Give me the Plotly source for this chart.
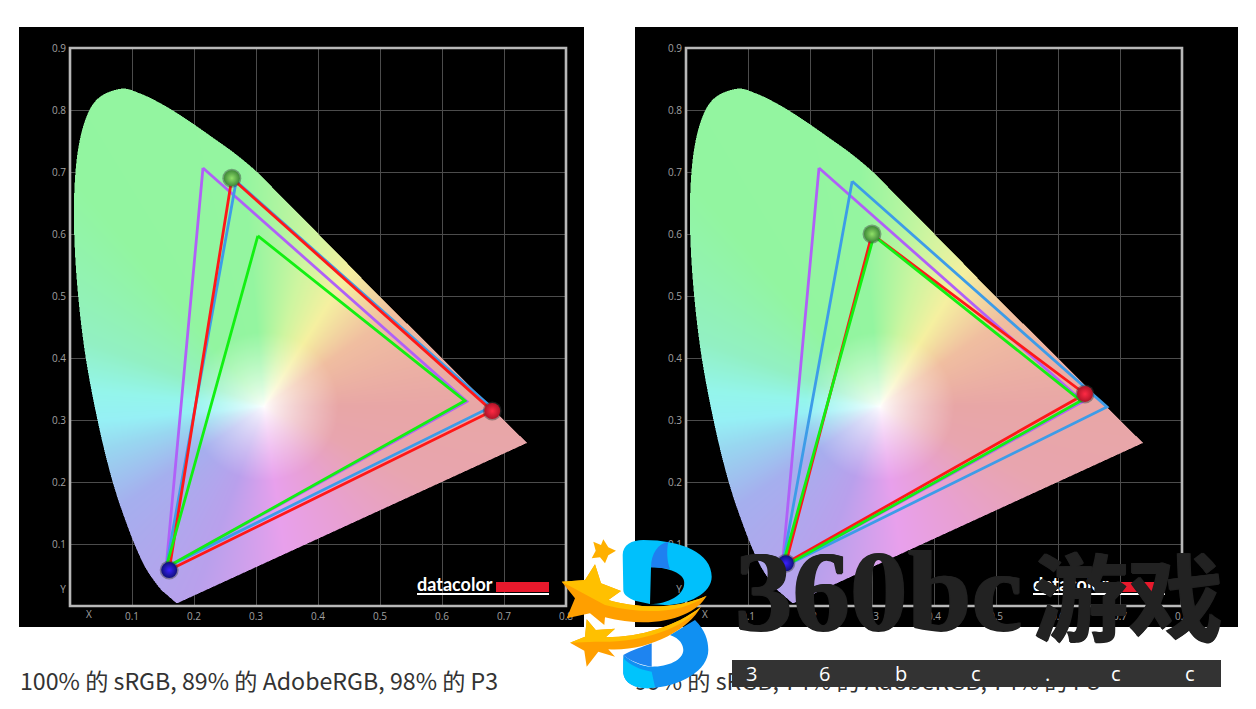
"""
CIE 1931 gamut comparison, two display panels with the site's watermark on top
"""
import base64
import re
import struct
import zlib

import numpy as np
import plotly.graph_objects as go

W, H = 1256, 709

# horseshoe outline (x, y)
locus_x = [0.1741, 0.1714, 0.1689, 0.1644, 0.1566, 0.1440, 0.1241, 0.1096, 0.0913, 0.0687,
           0.0454, 0.0235, 0.0100, 0.0065, 0.0155, 0.0389, 0.0800, 0.1142, 0.1547, 0.1929,
           0.2296, 0.2658, 0.3016, 0.3373, 0.3731, 0.4087, 0.4441, 0.4788, 0.5125, 0.5448,
           0.5752, 0.6029, 0.6270, 0.6658, 0.6915, 0.7079, 0.7190, 0.7260, 0.7370]
locus_y = [0.0050, 0.0051, 0.0069, 0.0109, 0.0177, 0.0297, 0.0578, 0.0868, 0.1327, 0.2007,
           0.2950, 0.4127, 0.5384, 0.6548, 0.7502, 0.8120, 0.8340, 0.8262, 0.8059, 0.7816,
           0.7560, 0.7300, 0.7000, 0.6640, 0.6280, 0.5920, 0.5560, 0.5202, 0.4866, 0.4544,
           0.4242, 0.3965, 0.3725, 0.3340, 0.3083, 0.2920, 0.2809, 0.2740, 0.2630]

# reference gamuts
adobe_x = [0.2145, 0.640, 0.155]
adobe_y = [0.7065, 0.330, 0.062]
p3_x = [0.268, 0.679, 0.155]
p3_y = [0.685, 0.321, 0.062]
srgb_x = [0.303, 0.637, 0.155]
srgb_y = [0.597, 0.331, 0.062]

# measured display gamuts
left_x = [0.261, 0.681, 0.160]
left_y = [0.690, 0.3145, 0.058]
right_x = [0.300, 0.6435, 0.161]
right_y = [0.600, 0.342, 0.069]

x_ticks = [0.1, 0.2, 0.3, 0.4, 0.5, 0.6, 0.7, 0.8]
y_ticks = [0.1, 0.2, 0.3, 0.4, 0.5, 0.6, 0.7, 0.8, 0.9]
left_caption = '100% 的 sRGB, 89% 的 AdobeRGB, 98% 的 P3'
right_caption = '99% 的 sRGB, 74% 的 AdobeRGB, 74% 的 P3'
bar_letters = ['3', '6', 'b', 'c', '.', 'c', 'c']

# hue around the white point: angle in degrees and pastel colour
hue_angles = [0, 35, 58, 75, 95, 130, 160, 175, 185, 195, 215, 250, 278, 305, 335, 360]
hue_colors = [(232, 166, 166), (240, 190, 160), (245, 240, 160), (205, 245, 160), (148, 245, 160),
              (146, 245, 160), (146, 240, 195), (148, 245, 235), (150, 240, 245), (152, 215, 240),
              (165, 175, 238), (185, 160, 236), (232, 160, 236), (232, 160, 210), (232, 165, 175),
              (232, 166, 166)]


def px(x):
    return x / W


def py(y):
    return 1 - y / H


def png_uri(rgba):
    def chunk(tag, data):
        return struct.pack('>I', len(data)) + tag + data + struct.pack('>I', zlib.crc32(tag + data))
    h, w = rgba.shape[:2]
    raw = b''.join(b'\x00' + row.tobytes() for row in rgba)
    png = (b'\x89PNG\r\n\x1a\n' + chunk(b'IHDR', struct.pack('>IIBBBBB', w, h, 8, 6, 0, 0, 0))
           + chunk(b'IDAT', zlib.compress(raw, 9)) + chunk(b'IEND', b''))
    return 'data:image/png;base64,' + base64.b64encode(png).decode()


def smooth_outline():
    # Catmull-Rom through the outline, same idea as line.shape='spline'; the mask needs it as a polygon
    p = np.column_stack([locus_x, locus_y])
    p = np.vstack([p[0], p, p[-1]])
    out = []
    for i in range(1, len(p) - 2):
        for t in np.linspace(0, 1, 10, endpoint=False):
            out.append(0.5 * (2 * p[i] + (p[i + 1] - p[i - 1]) * t
                              + (2 * p[i - 1] - 5 * p[i] + 4 * p[i + 1] - p[i + 2]) * t ** 2
                              + (3 * p[i] - p[i - 1] - 3 * p[i + 1] + p[i + 2]) * t ** 3))
    out.append(p[-2])
    return np.array(out)


def inside_outline(gx, gy, poly):
    # even-odd test against the closed outline
    res = np.zeros(gx.shape, dtype=bool)
    for i in range(len(poly)):
        x1, y1 = poly[i]
        x2, y2 = poly[i - 1]
        crosses = (y1 > gy) != (y2 > gy)
        res ^= crosses & (gx < (x2 - x1) * (gy - y1) / (y2 - y1 + 1e-12) + x1)
    return res


def locus_image():
    # one pixel per screen pixel, 620 px per unit; first row is the lowest y
    step = 1 / 620
    nx, ny = 496, 558
    xs = (np.arange(nx) + 0.5) * step
    ys = (np.arange(ny) + 0.5) * step
    gx, gy = np.meshgrid(xs, ys)
    ang = np.degrees(np.arctan2(gy - 0.322, gx - 0.313)) % 360
    rad = np.hypot(gx - 0.313, gy - 0.322)
    mix = np.clip(rad / 0.12, 0, 1) ** 0.75
    img = np.zeros((ny, nx, 4), dtype=np.uint8)
    for c in range(3):
        chan = np.interp(ang, hue_angles, [col[c] for col in hue_colors])
        img[..., c] = np.round(255 + (chan - 255) * mix)
    # 2x2 supersampled coverage for a soft edge
    poly = smooth_outline()
    cover = np.zeros(gx.shape)
    for ox in (-0.25, 0.25):
        for oy in (-0.25, 0.25):
            cover += inside_outline(gx + ox * step, gy + oy * step, poly)
    img[..., 3] = np.round(cover / 4 * 255)
    return img


locus_uri = png_uri(locus_image())

fig = go.Figure()


def add_panel(xa, ya, meas_x, meas_y):
    fig.add_trace(go.Image(source=locus_uri, x0=1 / 1240, y0=1 / 1240, dx=1 / 620, dy=1 / 620,
                           xaxis=xa, yaxis=ya, hoverinfo='skip'))
    gamuts = [(adobe_x, adobe_y, '#b060f8'), (p3_x, p3_y, '#3d9ce8'),
              (meas_x, meas_y, '#ff1818'), (srgb_x, srgb_y, '#12f012')]
    for gx, gy, col in gamuts:
        fig.add_trace(go.Scatter(x=gx + gx[:1], y=gy + gy[:1], mode='lines',
                                 line=dict(color=col, width=2.8), xaxis=xa, yaxis=ya,
                                 hoverinfo='skip', showlegend=False))
    # soft shadow, then the glass balls
    fig.add_trace(go.Scatter(x=meas_x, y=meas_y, mode='markers',
                             marker=dict(size=19, color='rgba(60,60,60,0.45)', line=dict(width=0)),
                             xaxis=xa, yaxis=ya, hoverinfo='skip', showlegend=False))
    fig.add_trace(go.Scatter(x=meas_x, y=meas_y, mode='markers',
                             marker=dict(size=16, color=['#3f8a38', '#b01428', '#10107a'],
                                         gradient=dict(type='radial', color=['#90e068', '#ff2a44', '#3a20ff']),
                                         line=dict(width=0)),
                             xaxis=xa, yaxis=ya, hoverinfo='skip', showlegend=False))


add_panel('x', 'y', left_x, left_y)
add_panel('x2', 'y2', right_x, right_y)

# text that sits under the watermark goes on a full-page overlay in pixel units
overlay = dict(xaxis='x3', yaxis='y3', hoverinfo='skip', showlegend=False, cliponaxis=False)
for off in (0, 616):
    fig.add_trace(go.Scatter(x=[89 + off, 63 + off], y=[615, 590], mode='text', text=['X', 'Y'],
                             textfont=dict(family='Open Sans', size=10, color='#a0a0a0'), **overlay))
    fig.add_trace(go.Scatter(x=[417 + off], y=[586], mode='text', text=['datacolor'], textposition='middle right',
                             textfont=dict(family='Lato', size=18, color='white', weight='bold'), **overlay))
fig.add_trace(go.Scatter(x=[20, 635], y=[684, 684], mode='text', text=[left_caption, right_caption],
                         textposition='middle right',
                         textfont=dict(family='Noto Sans CJK SC', size=23.2, color='#333333'), **overlay))

shapes = []
for x0, x1 in ((19, 584), (635, 1238)):
    shapes.append(dict(type='rect', xref='paper', yref='paper', layer='below', x0=px(x0), x1=px(x1),
                       y0=py(627), y1=py(27), fillcolor='black', line=dict(width=0)))
# the frames go on the overlay, on their own axes they would be clipped in half
for x0, x1 in ((70, 566), (686, 1182)):
    shapes.append(dict(type='rect', xref='x3', yref='y3', layer='above', x0=x0, x1=x1, y0=48, y1=606,
                       line=dict(color='#b8b8b8', width=2.6)))
for off in (0, 616):
    shapes.append(dict(type='rect', xref='x3', yref='y3', layer='above', x0=496 + off, x1=549 + off,
                       y0=582, y1=592, fillcolor='#e8192c', line=dict(width=0)))
    shapes.append(dict(type='rect', xref='x3', yref='y3', layer='above', x0=417 + off, x1=549 + off,
                       y0=593, y1=595, fillcolor='white', line=dict(width=0)))
shapes.append(dict(type='rect', xref='x3', yref='y3', layer='above', x0=732, x1=1221, y0=660, y1=687,
                   fillcolor='#333333', line=dict(width=0)))


def logo(path, color):
    # logo outlines were traced at 3x from the corner (555, 530)
    def conv(m):
        return f'{555 + int(m.group(1)) / 3:.1f},{530 + int(m.group(2)) / 3:.1f}'
    shapes.append(dict(type='path', xref='x3', yref='y3', layer='above',
                       path=re.sub(r'(\d+),(\d+)', conv, path), fillcolor=color, line=dict(width=0)))


# upper bowl of the B, the hole is cut with the even-odd path
logo('M203,75 C203,45 230,30 265,30 C380,30 470,70 470,140 C470,190 400,225 330,225 L285,222 L240,212 '
     'C222,205 205,195 205,180 Z M288,112 C340,112 388,130 388,158 C388,195 340,222 285,222 Z', '#00c0fc')
logo('M340,35 C310,40 288,70 288,112 C310,112 330,115 345,118 C335,90 335,60 340,35 Z', '#1e80f0')
# lower bowl
logo('M420,270 C450,300 460,330 460,360 C460,420 380,470 280,475 C240,475 208,460 205,430 L205,375 '
     'C230,395 260,410 290,410 C340,410 385,390 385,360 C385,345 375,325 345,315 Z', '#1090f2')
logo('M205,375 C225,393 260,406 290,410 L290,340 C265,350 230,360 205,375 Z', '#1e84f0')
logo('M205,385 C225,405 255,420 290,425 L300,472 L280,475 C240,475 208,460 205,430 Z', '#00c4fc')
# stars and tails
logo('M145,28 L160,52 L183,62 L160,76 L150,100 L135,82 L110,85 L122,62 L115,35 L138,45 Z', '#ffb000')
logo('M20,155 L90,150 L120,103 L138,160 L198,183 L160,210 C250,235 360,240 455,197 C420,260 300,300 150,262 '
     'L148,285 L105,250 L35,265 L60,205 Z', '#ff9f00')
logo('M20,155 L90,150 L120,103 L138,160 L198,183 L160,210 C250,235 360,240 455,197 C380,250 270,255 150,225 Z',
     '#ffc000')
logo('M45,338 L90,320 L95,268 L122,300 L180,296 L152,322 C260,320 360,290 438,230 C400,300 280,365 160,358 '
     'L180,380 L130,365 L95,410 L88,362 Z', '#ff9f00')
logo('M45,338 L90,320 L95,268 L122,300 L180,296 L152,322 C260,320 360,290 438,230 C380,300 250,340 120,335 Z',
     '#ffc000')

# the watermark is heavier than the bold faces here, a tight text shadow thickens it
heavy = '1px 0 0 #222222, -1px 0 0 #222222, 0 1px 0 #222222'
annotations = [
    dict(xref='x3', yref='y3', x=733, y=591, text='360bc', showarrow=False, xanchor='left', yanchor='middle',
         font=dict(family='Liberation Serif', size=115, color='#222222', weight='bold', shadow=heavy)),
    dict(xref='x3', yref='y3', x=1031, y=592, text='游戏', showarrow=False, xanchor='left', yanchor='middle',
         font=dict(family='Noto Sans CJK SC', size=95, color='#222222', weight='bold', shadow=heavy)),
]
for letter, cx in zip(bar_letters, [751, 824, 901, 976, 1047, 1116, 1190]):
    annotations.append(dict(xref='x3', yref='y3', x=cx, y=673, text=letter, showarrow=False,
                            font=dict(family='Open Sans', size=20, color='white')))

axis_common = dict(showline=False, showgrid=True,
                   gridcolor='#4c4c4c', gridwidth=1, zeroline=False, ticks='outside', ticklen=1,
                   tickcolor='rgba(0,0,0,0)', tickformat='.1f', fixedrange=True, automargin=False,
                   tickfont=dict(family='Open Sans', size=10, color='#a0a0a0'))
y_domain = [py(606), py(48)]
fig.update_layout(
    width=W, height=H,
    margin=dict(l=0, r=0, t=0, b=0, pad=0, autoexpand=False),
    paper_bgcolor='white', plot_bgcolor='rgba(0,0,0,0)',
    showlegend=False,
    xaxis=dict(domain=[px(70), px(566)], range=[0, 0.8], tickvals=x_ticks, anchor='y', **axis_common),
    yaxis=dict(domain=y_domain, range=[0, 0.9], tickvals=y_ticks, anchor='x', **axis_common),
    xaxis2=dict(domain=[px(686), px(1182)], range=[0, 0.8], tickvals=x_ticks, anchor='y2', **axis_common),
    yaxis2=dict(domain=y_domain, range=[0, 0.9], tickvals=y_ticks, anchor='x2', **axis_common),
    xaxis3=dict(domain=[0, 1], range=[0, W], visible=False, anchor='y3', fixedrange=True),
    yaxis3=dict(domain=[0, 1], range=[H, 0], visible=False, anchor='x3', fixedrange=True),
    shapes=shapes,
    annotations=annotations,
)

# the default page keeps body margins, drop them
fig.write_html("out.html", post_script="document.body.style.margin = '0';", config={'displayModeBar': False})
